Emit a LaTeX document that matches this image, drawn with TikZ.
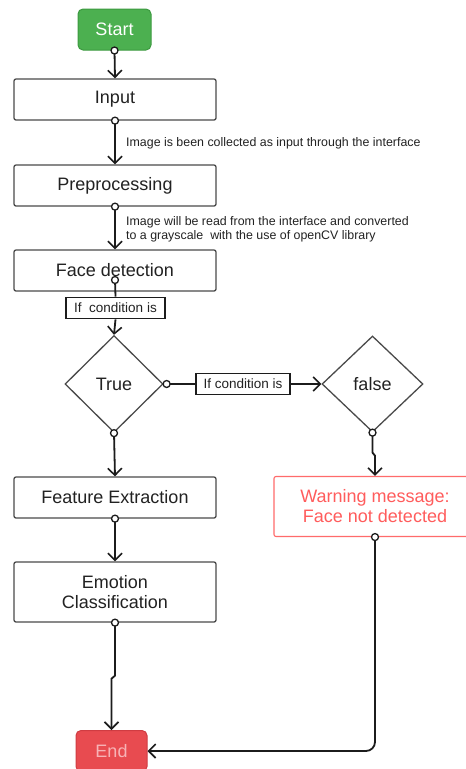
\documentclass[tikz,border=0pt]{standalone}
\usepackage{fontspec}
\setmainfont{Liberation Sans}
\usetikzlibrary{arrows.meta,shapes.geometric}
\definecolor{lc}{HTML}{1C1C1C}
\definecolor{boxc}{HTML}{4A4A4A}
\definecolor{txt}{HTML}{222222}
\definecolor{gfill}{HTML}{4CB050}
\definecolor{gline}{HTML}{3C9A40}
\definecolor{rfill}{HTML}{E84B50}
\definecolor{rline}{HTML}{D03C42}
\definecolor{rtxt}{HTML}{F7B3B6}
\definecolor{wline}{HTML}{FF6B6B}
\definecolor{wtxt}{HTML}{FF5C5C}
\begin{document}
\begin{tikzpicture}[x=1pt,y=-1pt,
  box/.style={draw=boxc, line width=1.3pt, rounded corners=2pt, minimum width=202pt, minimum height=41pt, inner sep=0pt, font=\fontsize{18}{20}\selectfont, text=txt, align=center},
  term/.style={rounded corners=5pt, line width=1pt, minimum height=41pt, inner sep=0pt, font=\fontsize{18}{20}\selectfont},
  dia/.style={diamond, aspect=1, draw=boxc, line width=1.3pt, inner sep=0pt, font=\fontsize{18}{20}\selectfont, text=txt},
  cond/.style={draw=lc, line width=1.8pt, fill=white, minimum height=21pt, inner sep=0pt, font=\fontsize{13.5}{15}\selectfont, text=txt},
  lbl/.style={font=\fontsize{12.4}{14}\selectfont, text=txt, inner sep=0pt, align=left},
  conn/.style={draw=lc, line width=1.8pt, -{Straight Barb[length=7pt,width=14pt,line width=1.6pt]}},
  plain/.style={draw=lc, line width=1.8pt},
  dot/.style={circle, draw=lc, fill=white, line width=1.3pt, minimum size=7pt, inner sep=0pt}
]
\useasboundingbox (0,0) rectangle (466,769);
\fill[white] (0,0) rectangle (466,769);

% nodes
\node[term, fill=gfill, draw=gline, text=white, minimum width=73pt] (start) at (114.5,29.5) {Start};
\node[box] (input) at (115,99.5) {Input};
\node[box] (prep) at (115,185.5) {Preprocessing};
\node[box] (face) at (115,270.5) {Face detection};
\node[cond, minimum width=99pt] (c1) at (115.5,308) {If\ \ condition is};
\node[dia, minimum width=98pt, minimum height=97pt] (true) at (114,384) {True};
\node[cond, minimum width=94pt] (c2) at (243,384) {If condition is};
\node[dia, minimum width=101pt, minimum height=96pt] (false) at (372.5,384) {false};
\node[box, draw=wline, text=wtxt, line width=1.1pt, minimum height=60pt] (warn) at (375,506.5) {Warning message:\\Face not detected};
\node[box] (feat) at (115,497.5) {Feature Extraction};
\node[box, minimum height=60pt] (emo) at (115,592) {Emotion\\Classification};
\node[term, fill=rfill, draw=rline, text=rtxt, minimum width=71pt] (end) at (111.5,751) {End};

\coordinate (fd) at (115,280);

% labels
\node[lbl, anchor=west] (l1) at (126,143) {Image is been collected as input through the interface};
\node[lbl, anchor=west] (l2) at (126,229) {Image will be read from the interface and converted\\to a grayscale\ \ with the use of openCV library};

% connectors
\draw[conn] (start.south) -- (input.north);
\draw[conn] (input.south) -- (prep.north);
\draw[conn] (prep.south) -- (face.north);
\draw[plain] (fd) -- (c1.north);
\draw[conn] (c1.south) -- (true.north);
\draw[plain] (true.east) -- (c2.west);
\draw[conn] (c2.east) -- (false.west);
\draw[conn] (true.south) -- (feat.north);
\draw[conn] (false.south) -- ++(0,20) -- ++(2.5,3) -- (warn.north);
\draw[conn] (feat.south) -- (emo.north);
\draw[conn] (emo.south) -- ++(0,53) -- ++(-3.5,3) -- (end.north);
\draw[conn, rounded corners=9pt] (warn.south) |- (end.east);

% dots
\node[dot] at (start.south) {};
\node[dot] at (input.south) {};
\node[dot] at (prep.south) {};
\node[dot] at (fd) {};
\node[dot] at ([xshift=3pt]true.east) {};
\node[dot] at (true.south) {};
\node[dot] at (false.south) {};
\node[dot] at (feat.south) {};
\node[dot] at (emo.south) {};
\node[dot] at (warn.south) {};
\end{tikzpicture}
\end{document}
